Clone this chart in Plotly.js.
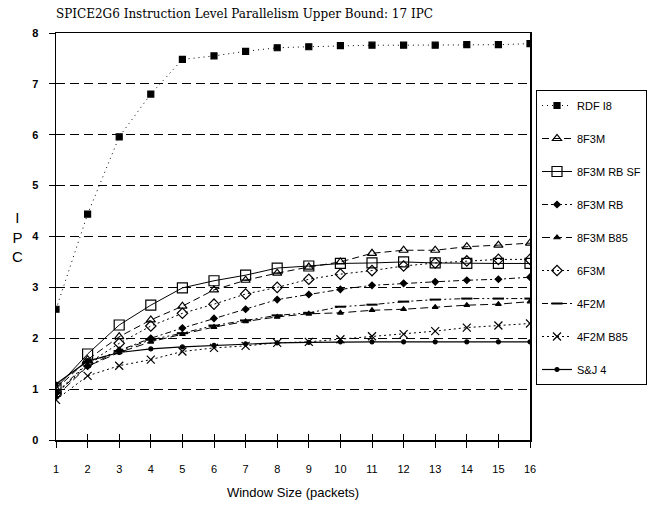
<!DOCTYPE html>
<html>
<head>
<meta charset="utf-8">
<script src="https://cdn.plot.ly/plotly-3.0.1.min.js"></script>
<style>
html,body{margin:0;padding:0;background:#fff;}
#chart{width:650px;height:506px;}
</style>
</head>
<body>
<div id="chart"></div>
<script>
const windowSizes = [1, 2, 3, 4, 5, 6, 7, 8, 9, 10, 11, 12, 13, 14, 15, 16];
const seriesNames = ["RDF I8", "8F3M", "8F3M RB SF", "8F3M RB", "8F3M B85", "6F3M", "4F2M", "4F2M B85", "S&J 4"];
const rdfI8    = [2.57, 4.44, 5.96, 6.80, 7.48, 7.55, 7.64, 7.71, 7.73, 7.75, 7.76, 7.76, 7.76, 7.77, 7.77, 7.79];
const f8F3M    = [1.00, 1.58, 2.03, 2.36, 2.63, 2.95, 3.14, 3.28, 3.40, 3.50, 3.67, 3.73, 3.73, 3.80, 3.83, 3.87];
const f8F3MRBSF= [1.02, 1.69, 2.26, 2.65, 2.99, 3.13, 3.24, 3.38, 3.42, 3.47, 3.48, 3.50, 3.48, 3.47, 3.47, 3.47];
const f8F3MRB  = [0.92, 1.45, 1.76, 2.00, 2.20, 2.39, 2.57, 2.76, 2.86, 2.96, 3.04, 3.08, 3.11, 3.14, 3.16, 3.20];
const f8F3MB85 = [0.85, 1.45, 1.72, 1.93, 2.08, 2.22, 2.33, 2.42, 2.48, 2.50, 2.55, 2.57, 2.61, 2.65, 2.67, 2.72];
const f6F3M    = [0.90, 1.50, 1.90, 2.24, 2.49, 2.67, 2.87, 3.00, 3.16, 3.26, 3.33, 3.42, 3.48, 3.52, 3.55, 3.55];
const f4F2M    = [0.92, 1.52, 1.75, 1.97, 2.10, 2.25, 2.35, 2.45, 2.50, 2.62, 2.66, 2.72, 2.76, 2.78, 2.78, 2.78];
const f4F2MB85 = [0.79, 1.26, 1.46, 1.58, 1.74, 1.81, 1.85, 1.91, 1.93, 1.98, 2.04, 2.08, 2.14, 2.21, 2.25, 2.29];
const sj4      = [1.10, 1.55, 1.72, 1.79, 1.83, 1.86, 1.89, 1.91, 1.92, 1.93, 1.93, 1.93, 1.93, 1.93, 1.93, 1.93];
const yTicks = [0, 1, 2, 3, 4, 5, 6, 7, 8];

const allValues = [rdfI8, f8F3M, f8F3MRBSF, f8F3MRB, f8F3MB85, f6F3M, f4F2M, f4F2MB85, sj4];
const styles = [
  {sym: "square", size: 6, dash: "1px,4px", w: 1},
  {sym: "triangle-up-open", size: 8, dash: "7px,4px", w: 1},
  {sym: "square-open", size: 10, dash: "solid", w: 1},
  {sym: "diamond", size: 5, dash: "6px,3px,2px,3px", w: 1},
  {sym: "triangle-up", size: 5, dash: "8px,4px", w: 1},
  {sym: "diamond-open", size: 8, dash: "2px,3px", w: 1},
  {sym: "line-ew-open", size: 8, dash: "6px,3px,2px,3px,2px,3px", w: 1},
  {sym: "x-thin-open", size: 8, dash: "2px,3px", w: 1},
  {sym: "circle", size: 4, dash: "solid", w: 1.2}
];

const traces = seriesNames.map((name, i) => ({
  type: "scatter",
  mode: "lines+markers",
  name: name,
  legendgroup: "g" + i,
  x: windowSizes,
  y: allValues[i],
  line: {color: "#000", width: styles[i].w, dash: styles[i].dash},
  marker: {symbol: styles[i].sym, size: styles[i].size, color: "#000",
           line: {color: "#000", width: styles[i].sym.indexOf("line") === 0 ? 2 : 1.2}},
  xaxis: "x", yaxis: "y"
}));
// invisible helper for inner tick marks
traces.push({type: "scatter", x: [windowSizes[0]], y: [yTicks[0]], xaxis: "x2", yaxis: "y2",
  mode: "markers", marker: {opacity: 0}, showlegend: false, hoverinfo: "skip"});

const layout = {
  width: 650, height: 506,
  paper_bgcolor: "#fff", plot_bgcolor: "#fff",
  margin: {l: 56, r: 120, t: 33, b: 66, autoexpand: false},
  title: {text: "SPICE2G6 Instruction Level Parallelism Upper Bound: 17 IPC",
          font: {family: "DejaVu Serif, serif", size: 12, color: "#000"},
          x: 56/650, xanchor: "left", y: 0.972, yanchor: "middle"},
  xaxis: {
    range: [1, 16], tickvals: windowSizes, ticktext: windowSizes.map(String),
    showgrid: false, zeroline: false, showline: true, linecolor: "#000", linewidth: 1.5,
    mirror: true, ticks: "outside", ticklen: 6, tickcolor: "#000", tickwidth: 1,
    ticklabelstandoff: 12,
    tickfont: {family: "Liberation Sans, Arial, sans-serif", size: 11, color: "#000"},
    title: {text: "Window Size (packets)", standoff: 14,
            font: {family: "Liberation Sans, Arial, sans-serif", size: 13, color: "#000"}}
  },
  yaxis: {
    range: [0, 8], tickvals: yTicks,
    showgrid: true, gridcolor: "#000", gridwidth: 1, griddash: "9px,5px",
    zeroline: false, showline: true, linecolor: "#000", linewidth: 1.5, mirror: true,
    ticks: "outside", ticklen: 6, tickcolor: "#000", tickwidth: 1, ticklabelstandoff: 8,
    tickfont: {family: "Liberation Sans, Arial, sans-serif", size: 11, color: "#000", weight: "bold"}
  },
  xaxis2: {overlaying: "x", range: [1, 16], tickvals: windowSizes, showticklabels: false,
    ticks: "inside", ticklen: 6, tickcolor: "#000", showgrid: false, zeroline: false, showline: false, anchor: "y2"},
  yaxis2: {overlaying: "y", range: [0, 8], tickvals: yTicks, showticklabels: false,
    ticks: "inside", ticklen: 6, tickcolor: "#000", showgrid: false, zeroline: false, showline: false, anchor: "x2"},
  showlegend: true,
  legend: {
    x: (536 - 56) / 474, xanchor: "left", y: (440 - 90) / 407, yanchor: "top",
    bordercolor: "#000", borderwidth: 1, bgcolor: "#fff",
    font: {family: "Liberation Sans, Arial, sans-serif", size: 11, color: "#000"},
    tracegroupgap: 14, itemwidth: 30
  },
  annotations: [{
    text: "I<br>P<br>C", xref: "paper", yref: "paper",
    x: (17 - 56) / 474, y: 0.5, xanchor: "center", yanchor: "middle", showarrow: false,
    font: {family: "Liberation Sans, Arial, sans-serif", size: 15, color: "#000"}
  }]
};

Plotly.newPlot("chart", traces, layout, {displayModeBar: false, staticPlot: true});
</script>
</body>
</html>
